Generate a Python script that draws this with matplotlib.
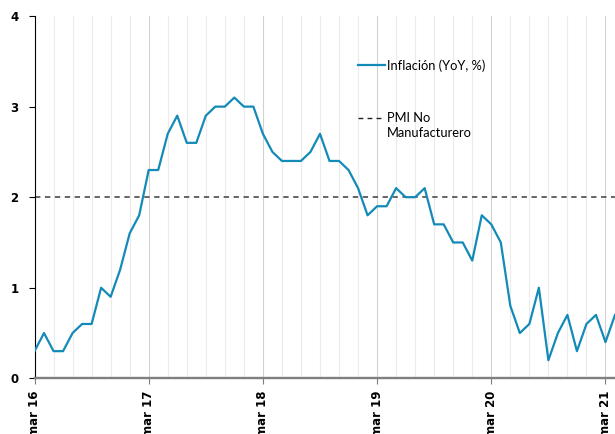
import matplotlib.pyplot as plt
import numpy as np

# Inflación mensual (YoY, %) de mar 16 a abr 21
inflation = [0.3, 0.5, 0.3, 0.3, 0.5, 0.6, 0.6, 1.0, 0.9, 1.2,
             1.6, 1.8, 2.3, 2.3, 2.7, 2.9, 2.6, 2.6, 2.9, 3.0, 3.0, 3.1,
             3.0, 3.0, 2.7, 2.5, 2.4, 2.4, 2.4, 2.5, 2.7, 2.4, 2.4, 2.3,
             2.1, 1.8, 1.9, 1.9, 2.1, 2.0, 2.0, 2.1, 1.7, 1.7, 1.5, 1.5,
             1.3, 1.8, 1.7, 1.5, 0.8, 0.5, 0.6, 1.0, 0.2, 0.5, 0.7, 0.3,
             0.6, 0.7, 0.4, 0.7]
pmi_level = 2.0
tick_labels = ['mar 16', 'mar 17', 'mar 18', 'mar 19', 'mar 20', 'mar 21']
yticks = [0, 1, 2, 3, 4]

months = np.arange(len(inflation))
tick_pos = np.arange(0, 12 * len(tick_labels), 12)

blue = '#138ab8'

fig = plt.figure(figsize=(6.15, 4.34), dpi=100)
ax = fig.add_axes([0.0561, 0.1283, 0.9439, 0.8347])

# vertical grid every 2 months, darker on year marks
for m in range(2, 62, 2):
    c = '#d2d2d2' if m % 12 == 0 else '#ececec'
    ax.axvline(m, color=c, lw=0.8, zorder=0)

ax.axhline(pmi_level, color='#3c3c3c', lw=1.1, ls=(0, (3.5, 3.0)), zorder=2)
ax.plot(months, inflation, color=blue, lw=1.6, zorder=3)

ax.set_xlim(0, 61)
ax.set_ylim(0, 4)

ax.set_yticks(yticks)
ax.set_yticklabels([str(v) for v in yticks], fontweight='bold', fontsize=8.5,
                   family='DejaVu Sans')
ax.set_xticks(tick_pos)
ax.set_xticklabels(tick_labels, rotation=90, fontweight='bold', fontsize=8.5,
                   family='DejaVu Sans')
ax.tick_params(axis='y', length=4, width=0.8, pad=7.5)
ax.tick_params(axis='x', length=4, width=0.8, pad=5, color='#7f7f7f')

for s in ['top', 'right']:
    ax.spines[s].set_visible(False)
ax.spines['left'].set_linewidth(0.8)
ax.spines['bottom'].set_color('#7f7f7f')
ax.spines['bottom'].set_linewidth(1.7)

# legend drawn by hand
lx0, lx1, tx = 0.557, 0.604, 0.607
ax.plot([lx0, lx1], [0.864, 0.864], transform=ax.transAxes, color=blue, lw=1.6)
ax.text(tx, 0.864, 'Inflación (YoY, %)', transform=ax.transAxes,
        va='center', ha='left', fontsize=9.3, family='Lato')
ax.plot([lx0, lx1], [0.718, 0.718], transform=ax.transAxes, color='#222222',
        lw=1.0, ls=(0, (3.5, 3.0)))
ax.text(tx, 0.718, 'PMI No', transform=ax.transAxes,
        va='center', ha='left', fontsize=9.3, family='Lato')
ax.text(tx, 0.677, 'Manufacturero', transform=ax.transAxes,
        va='center', ha='left', fontsize=9.3, family='Lato')

plt.savefig('out.png', dpi=100)
